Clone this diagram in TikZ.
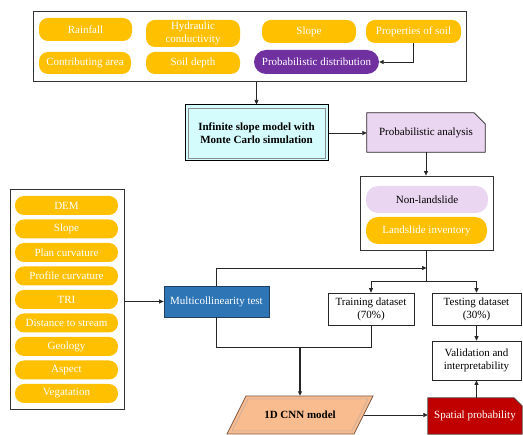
\documentclass[tikz,border=0pt]{standalone}
\usepackage{fontspec}
\setmainfont{Liberation Serif}
\usetikzlibrary{arrows.meta,calc,backgrounds}
\definecolor{ygold}{HTML}{FFC000}
\definecolor{ppurple}{HTML}{7030A0}
\definecolor{lav}{HTML}{EBD6F1}
\definecolor{icyan}{HTML}{D5FCFC}
\definecolor{mblue}{HTML}{2E75B6}
\definecolor{mbluedk}{HTML}{1F3F5F}
\definecolor{sred}{HTML}{C00000}
\definecolor{peach}{HTML}{F9BC8E}
\definecolor{peachdk}{HTML}{7A5A48}
\begin{document}
\begin{tikzpicture}[x=1pt,y=-1pt,font=\fontsize{11}{13}\selectfont,
  pill/.style={rounded corners=9pt,fill=ygold,text=white,inner sep=0pt,align=center},
  frame/.style={draw=black!80,line width=0.8pt,fill=white,inner sep=0pt},
  plainbox/.style={draw=black!85,line width=0.7pt,fill=white,inner sep=0pt,align=center},
  ln/.style={draw=black!85,line width=0.7pt},
  arr/.style={-{Triangle[length=4.5pt,width=4pt]}}]
\useasboundingbox (0,0) rectangle (523,435);

% top group
\node[frame,minimum width=433pt,minimum height=70.5pt] (topbox) at (249.5,46.25) {};
\node[pill,minimum width=93pt,minimum height=23pt] (rain) at (85.5,29.5) {Rainfall};
\node[pill,minimum width=94pt,minimum height=27pt,font=\fontsize{11}{12.5}\selectfont] (hyd) at (193,33.5) {Hydraulic\\conductivity};
\node[pill,minimum width=94pt,minimum height=23pt] (slope1) at (309,31.5) {Slope};
\node[pill,minimum width=95pt,minimum height=23pt] (props) at (413.5,31.5) {Properties of soil};
\node[pill,minimum width=92pt,minimum height=22pt] (contrib) at (85,63) {Contributing area};
\node[pill,minimum width=94pt,minimum height=22pt] (soil) at (193,63) {Soil depth};
\node[pill,fill=ppurple,rounded corners=12pt,minimum width=125pt,minimum height=24pt] (pdist) at (316.5,62) {Probabilistic distribution};

% infinite slope box
\node[draw=black,line width=1pt,fill=icyan,minimum width=143pt,minimum height=56pt,inner sep=0pt,align=center,font=\bfseries\fontsize{11}{13}\selectfont] (inf) at (256.5,133) {Infinite slope model with\\Monte Carlo simulation};
\draw[draw=black!45,line width=0.6pt] ($(inf.north west)+(3.5,3.5)$) rectangle ($(inf.south east)+(-3.5,-3.5)$);

% probabilistic analysis
\node[inner sep=0pt,minimum width=118pt,minimum height=39pt] (pa) at (426,132.5) {Probabilistic analysis};
\begin{scope}[on background layer]
\draw[ln,fill=lav] (pa.south west) -- (pa.north west) -- ([xshift=-11pt]pa.north east) -- ([yshift=-11pt]pa.north east) -- (pa.south east) -- cycle;
\end{scope}

% landslide box
\node[frame,minimum width=133pt,minimum height=74pt] (lsbox) at (426.5,213) {};
\node[pill,fill=lav,text=black,rounded corners=12pt,minimum width=122pt,minimum height=27pt] (nonls) at (427,199.5) {Non-landslide};
\node[pill,rounded corners=12pt,minimum width=121pt,minimum height=27pt] (lsinv) at (426.5,230.5) {Landslide inventory};

% datasets
\node[plainbox,minimum width=86pt,minimum height=32pt] (train) at (371,309) {Training dataset\\(70\%)};
\node[plainbox,minimum width=89pt,minimum height=32pt] (test) at (476.5,309) {Testing dataset\\(30\%)};
\node[plainbox,minimum width=89pt,minimum height=39pt] (val) at (476.5,360.5) {Validation and\\interpretability};

% spatial probability
\node[inner sep=0pt,minimum width=94pt,minimum height=36pt,text=white] (sp) at (475,416) {Spatial probability};
\begin{scope}[on background layer]
\draw[ln,draw=black!70,fill=sred] (sp.south west) -- (sp.north west) -- ([xshift=-8pt]sp.north east) -- ([yshift=-8pt]sp.north east) -- (sp.south east) -- cycle;
\end{scope}

% 1D CNN model
\node[inner sep=0pt,minimum width=127pt,minimum height=38pt,font=\bfseries\fontsize{11}{13}\selectfont] (cnn) at (300,415) {1D CNN model};
\begin{scope}[on background layer]
\draw[draw=peachdk,line width=0.8pt,fill=peach] ($(cnn.center)+(-73,19)$) -- ($(cnn.center)+(-54,-19)$) -- ($(cnn.center)+(73,-19)$) -- ($(cnn.center)+(54,19)$) -- cycle;
\draw[draw=peachdk!50,line width=0.5pt] ($(cnn.center)+(-68,16)$) -- ($(cnn.center)+(-52,-16)$) -- ($(cnn.center)+(68,-16)$) -- ($(cnn.center)+(52,16)$) -- cycle;
\end{scope}

% multicollinearity
\node[draw=mbluedk,line width=0.8pt,fill=mblue,text=white,inner sep=0pt,minimum width=105pt,minimum height=31pt] (mc) at (216.5,301.5) {Multicollinearity test};

% left group
\node[frame,minimum width=114pt,minimum height=220pt] (leftbox) at (67,299) {};
\foreach \t/\yy/\nm in {DEM/205.5/f1,Slope/229/f2,Plan curvature/252.5/f3,Profile curvature/276/f4,TRI/299.5/f5,Distance to stream/323/f6,Geology/346.5/f7,Aspect/370/f8,Vegatation/393.5/f9}
  \node[pill,minimum width=103pt,minimum height=19pt] (\nm) at (66.5,\yy) {\t};

% connectors
\draw[ln,arr] (props.south) |- (pdist.east);
\draw[ln,arr] (topbox.south -| inf.north) -- (inf.north);
\draw[ln,arr] (inf.east) -- (inf.east -| pa.west);
\draw[ln,arr] (pa.south) -- (pa.south |- lsbox.north);
\coordinate (j1) at (lsbox.south |- 0,268);
\coordinate (j2) at (lsbox.south |- 0,281);
\draw[ln] (lsbox.south) -- (j2);
\draw[ln,arr] (mc.north) |- (j1);
\draw[ln,arr] (j2) -| (train.north);
\draw[ln,arr] (j2) -| (test.north);
\coordinate (j3) at (train.south |- 0,347);
\draw[ln] (mc.south) |- (j3) -- (train.south);
\draw[ln,arr,line width=1.1pt] (cnn.north |- j3) -- (cnn.north);
\draw[ln,arr] (mc.west -| leftbox.east) -- (mc.west);
\draw[ln,arr] (test.south) -- (val.north);
\draw[ln,arr] (val.south |- sp.north) -- (val.south);
\draw[ln,arr] (cnn.east) -- (cnn.east -| sp.west);
\end{tikzpicture}
\end{document}
